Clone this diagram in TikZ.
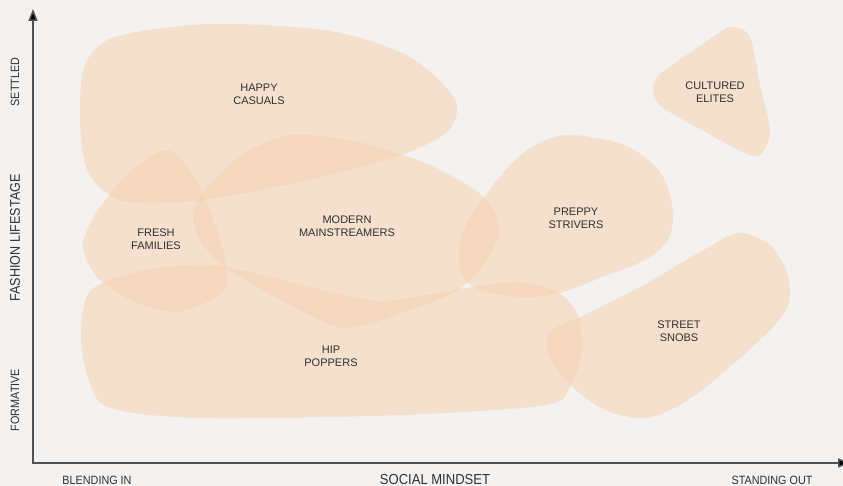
\documentclass[tikz,border=0pt]{standalone}
\usepackage{fontspec}
\setmainfont{Liberation Sans}
\newfontfamily\axisfont[FakeStretch=0.9]{Liberation Sans}
\usetikzlibrary{arrows.meta}
\definecolor{paper}{RGB}{243,242,240}
\definecolor{peach}{RGB}{245,208,172}
\definecolor{ink}{RGB}{48,48,48}
\definecolor{axisgray}{RGB}{80,80,80}
\tikzset{
  segment/.style={fill=peach, fill opacity=0.5, draw=none},
  seglabel/.style={align=center, text=ink, font=\fontsize{11}{13.3}\selectfont, inner sep=0pt},
  axislabel/.style={text=ink, font=\axisfont\fontsize{12}{14}\selectfont, inner sep=0pt},
  axisline/.style={draw=axisgray, line width=1.5pt, {Triangle[length=12pt,width=9pt,fill=black]}-{Triangle[length=12pt,width=9pt,fill=black]}}
}
\begin{document}
\begin{tikzpicture}[x=1pt, y=-1pt]
  \useasboundingbox (0,0) rectangle (843,486);
  \fill[paper] (0,0) rectangle (843,486);

  % segment regions
  \fill[segment] plot[smooth cycle] coordinates {(210,24) (330,31) (410,57) (455,100) (447,132) (395,157) (295,183) (195,201) (122,201) (88,172) (80,120) (85,65) (115,37)};
  \fill[segment] plot[smooth cycle] coordinates {(165,150) (190,170) (210,210) (225,258) (225,288) (205,303) (175,312) (135,302) (98,278) (83,248) (93,218) (125,177)};
  \fill[segment] plot[smooth cycle] coordinates {(293,135) (362,143) (432,166) (485,198) (499,230) (485,263) (458,290) (405,312) (345,328) (292,306) (232,272) (203,245) (193,217) (207,187) (245,153)};
  \fill[segment] plot[smooth cycle] coordinates {(91,290) (146,270) (210,265) (267,276) (330,292) (384,301) (459,289) (521,282) (559,293) (578,315) (582,350) (570,387) (546,405) (404,415) (198,418) (108,407) (88,377) (81,333)};
  \fill[segment] plot[smooth cycle] coordinates {(573,135) (625,145) (660,172) (673,210) (668,240) (645,260) (600,278) (560,293) (520,297) (475,288) (459,265) (463,232) (482,200) (513,162) (543,141)};
  \fill[segment] plot[smooth cycle] coordinates {(738,233) (770,245) (787,272) (789,302) (772,328) (722,374) (680,405) (645,418) (605,410) (567,382) (547,350) (552,330) (585,315) (640,287) (700,252)};
  \fill[segment] plot[smooth cycle] coordinates {(735,27) (750,37) (760,85) (770,130) (763,152) (750,155) (707,133) (662,107) (653,90) (660,74) (700,46) (725,29)};

  % segment names
  \node[seglabel] (happy)    at (259,94.5) {HAPPY\\CASUALS};
  \node[seglabel] (fresh)    at (156,239)  {FRESH\\FAMILIES};
  \node[seglabel] (modern)   at (347,226)  {MODERN\\MAINSTREAMERS};
  \node[seglabel] (hip)      at (331,356)  {HIP\\POPPERS};
  \node[seglabel] (preppy)   at (576,218.5){PREPPY\\STRIVERS};
  \node[seglabel] (street)   at (679,331)  {STREET\\SNOBS};
  \node[seglabel] (cultured) at (715,92)   {CULTURED\\ELITES};

  % axes
  \coordinate (ytop) at (33,9);
  \coordinate (origin) at (33,463);
  \coordinate (xend) at (850,463);
  \draw[axisline] (ytop) -- (origin) -- (xend);

  % axis labels
  \node[axislabel, rotate=90] (settled)   at (15,82)  {SETTLED};
  \node[axislabel, rotate=90, font=\axisfont\fontsize{14}{16}\selectfont] (lifestage) at (15,238) {FASHION LIFESTAGE};
  \node[axislabel, rotate=90] (formative) at (15,400) {FORMATIVE};
  \node[axislabel, anchor=base] (blending) at (97,484)  {BLENDING IN};
  \node[axislabel, anchor=base, font=\axisfont\fontsize{14.5}{16}\selectfont] (mindset) at (435,484) {SOCIAL MINDSET};
  \node[axislabel, anchor=base] (standing) at (772,484) {STANDING OUT};
\end{tikzpicture}
\end{document}
